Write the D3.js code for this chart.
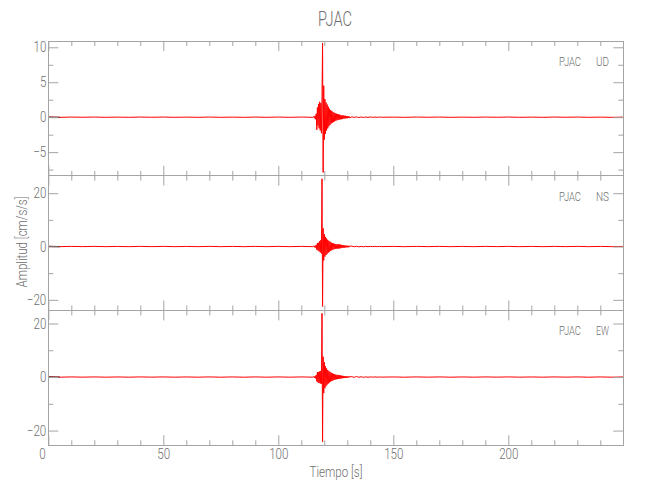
<!DOCTYPE html>
<html><head><meta charset="utf-8">
<script src="https://cdn.jsdelivr.net/npm/d3@7"></script>
<style>
body{margin:0;background:#fff}
svg{display:block}
text{font-family:Roboto,"Liberation Sans Narrow","DejaVu Sans Condensed",sans-serif;font-weight:300;fill:#707070}
</style>
</head><body><svg id="c" width="650" height="500"></svg>
<script>
// ---------- data ----------
const chartTitle = "PJAC";
const station = "PJAC";
const components = ["UD", "NS", "EW"];
const xLabel = "Tiempo  [s]";
const yLabel = "Amplitud  [cm/s/s]";
const xDomain = [0, 250];
const xTicksMajor = [0, 50, 100, 150, 200];
const xTicksMinor = [10,20,30,40,60,70,80,90,110,120,130,140,160,170,180,190,210,220,230,240];
const yDomains = [[-8.4, 10.9], [-24.0, 26.6], [-25.5, 24.9]];
const yTicksMajor = [[10, 5, 0, -5], [20, 0, -20], [20, 0, -20]];
const yTicksMinor = [[7.5, 2.5, -2.5, -7.5], [10, -10], [10, -10]];

const preTimes = [0,5,10,15,20,25,30,35,40,45,50,55,60,65,70,75,80,85,90,95,100,105,110,115];
const burstTimes = [115.5,115.75,116,116.25,116.5,116.75,117,117.25,117.5,117.75,118,118.25,118.5,118.75,
  119,119.25,119.5,119.75,120,120.25,120.5,120.75,121,121.25,121.5,121.75,122,122.25,122.5,122.75,
  123,123.25,123.5,123.75,124,124.25,124.5,124.75,125,125.25,125.5,125.75,126,126.25,126.5,126.75,
  127,127.25,127.5,127.75,128,128.25,128.5,128.75,129,129.25,129.5,129.75,130,130.25,130.5,130.75,131];
const codaTimes = [132,133,134,135,136,137,138,139,140,141,142,143,144,145];
const postTimes = [150,155,160,165,170,175,180,185,190,195,200,205,210,215,220,225,230,235,240,245,250];

// UD (cm/s/s)
const udPre = [0.01,-0.02,0.02,-0.01,0.02,-0.02,0.01,-0.02,0.02,-0.01,0.02,-0.02,0.01,-0.02,0.02,-0.02,0.01,-0.02,0.02,-0.02,0.02,-0.02,0.02,-0.02];
const udBurst = [0.1,-0.15,0.2,-0.3,0.5,-1.8,1.4,-1.2,1.9,-1.6,2.2,-1.9,2.0,-2.3,
  3.0,10.6,-7.9,4.5,-3.2,2.6,-2.4,2.1,-1.9,1.8,-1.6,1.5,-1.3,1.2,-1.1,1.0,
  -0.9,0.9,-0.8,0.75,-0.7,0.65,-0.6,0.55,-0.5,0.5,-0.45,0.45,-0.4,0.4,-0.35,0.35,
  -0.3,0.3,-0.3,0.25,-0.25,0.25,-0.2,0.2,-0.2,0.2,-0.15,0.15,-0.15,0.15,-0.12,0.12,-0.1];
const udCoda = [0.05,-0.03,0.04,-0.05,0.03,-0.04,0.02,-0.03,0.03,-0.02,0.02,-0.02,0.02,-0.01];
const udPost = [0.01,-0.02,0.02,-0.01,0.02,-0.02,0.01,-0.02,0.02,-0.01,0.02,-0.02,0.01,-0.02,0.02,-0.01,0.02,-0.02,0.01,-0.02,0.01];

// NS (cm/s/s)
const nsPre = [0.03,-0.05,0.05,-0.04,0.05,-0.05,0.04,-0.05,0.05,-0.04,0.05,-0.05,0.04,-0.05,0.05,-0.05,0.04,-0.05,0.05,-0.05,0.05,-0.05,0.05,-0.05];
const nsBurst = [0.2,-0.3,0.3,-0.4,0.6,-1.2,1.3,-1.5,1.4,-1.8,2.0,-2.2,2.4,-2.6,
  25.4,-22.5,6.8,-5.2,4.6,-3.8,3.6,-3.2,3.0,-2.7,2.5,-2.3,2.1,-1.9,1.8,-1.6,
  1.5,-1.4,1.3,-1.2,1.1,-1.0,1.0,-0.9,0.9,-0.8,0.8,-0.7,0.9,-0.8,0.8,-0.7,
  0.7,-0.6,0.6,-0.5,0.5,-0.45,0.45,-0.4,0.4,-0.35,0.35,-0.3,0.3,-0.3,0.25,-0.25,0.2];
const nsCoda = [0.12,-0.08,0.1,-0.12,0.06,-0.1,0.05,-0.07,0.06,-0.04,0.05,-0.04,0.04,-0.03];
const nsPost = [0.04,-0.05,0.05,-0.04,0.05,-0.05,0.04,-0.05,0.05,-0.04,0.05,-0.05,0.04,-0.05,0.05,-0.04,0.05,-0.05,0.04,-0.05,0.04];

// EW (cm/s/s)
const ewPre = [0.03,-0.05,0.05,-0.04,0.05,-0.05,0.04,-0.05,0.05,-0.04,0.05,-0.05,0.04,-0.05,0.05,-0.05,0.04,-0.05,0.05,-0.05,0.05,-0.05,0.05,-0.05];
const ewBurst = [0.2,-0.3,0.3,-0.5,0.8,-1.6,1.8,-2.0,1.9,-2.2,2.1,-2.4,2.3,-2.5,
  23.8,-24.2,7.6,-6.0,5.5,-4.2,4.0,-3.4,3.2,-2.8,2.6,-2.4,2.2,-2.0,1.9,-1.7,
  1.6,-1.5,1.4,-1.3,1.2,-1.1,1.0,-0.95,0.9,-0.85,0.8,-0.75,0.8,-0.7,0.7,-0.6,
  0.6,-0.55,0.5,-0.45,0.45,-0.4,0.4,-0.35,0.35,-0.3,0.3,-0.3,0.25,-0.25,0.2,-0.2,0.2];
const ewCoda = [0.12,-0.1,0.2,-0.08,0.12,-0.1,0.06,-0.08,0.06,-0.04,0.05,-0.05,0.04,-0.03];
const ewPost = [0.04,-0.05,0.05,-0.04,0.05,-0.05,0.04,-0.05,0.05,-0.04,0.05,-0.05,0.04,-0.05,0.05,-0.04,0.05,-0.05,0.04,-0.05,0.04];

const darkUntil = 5; // first seconds of each trace appear darker

// ---------- build ----------
const times = preTimes.concat(burstTimes, codaTimes, postTimes);
const seriesValues = [
  udPre.concat(udBurst, udCoda, udPost),
  nsPre.concat(nsBurst, nsCoda, nsPost),
  ewPre.concat(ewBurst, ewCoda, ewPost)
];

const svg = d3.select("#c");
const axisColor = "#a4a4a4";
const textColor = "#707070";
const fontFam = 'Roboto,"Liberation Sans Narrow","DejaVu Sans Condensed",sans-serif';
const left = 48.3, right = 623.3;
const panelTops = [41, 175.6, 310.4];
const panelH = 134.9;

const x = d3.scaleLinear().domain(xDomain).range([left, right]);

function styleAxis(g) {
  g.select(".domain").remove();
  g.selectAll(".tick line").attr("stroke", axisColor);
  g.selectAll("text").attr("fill", textColor).attr("font-size", 14.5)
    .attr("font-family", fontFam).attr("font-weight", 300)
    .attr("transform", "scale(0.8,1)");
}

components.forEach((comp, i) => {
  const top = panelTops[i];
  const bottom = top + panelH;
  const y = d3.scaleLinear().domain(yDomains[i]).range([bottom, top]);
  const g = svg.append("g");

  // trace
  const vals = seriesValues[i];
  const n = Math.min(times.length, vals.length);
  const pts = d3.range(n).map(k => ({t: times[k], v: vals[k]}));
  const line = d3.line().x(d => x(d.t)).y(d => y(d.v));
  g.append("path").datum(pts).attr("d", line)
    .attr("fill", "none").attr("stroke", "#ff0000").attr("stroke-width", 1.0);
  g.append("path").datum(pts.filter(d => d.t <= darkUntil)).attr("d", line)
    .attr("fill", "none").attr("stroke", "#6a2a2a").attr("stroke-width", 1.2);

  // frame
  g.append("rect").attr("x", left).attr("y", top).attr("width", right - left).attr("height", panelH)
    .attr("fill", "none").attr("stroke", axisColor).attr("stroke-width", 1).attr("shape-rendering", "crispEdges");

  // left axis major / minor
  g.append("g").attr("transform", `translate(${left},0)`)
    .call(d3.axisLeft(y).tickValues(yTicksMajor[i]).tickSizeInner(-10).tickSizeOuter(0).tickPadding(2.5)
      .tickFormat(d => d < 0 ? "\u2212" + Math.abs(d) : String(d)))
    .call(styleAxis);
  g.append("g").attr("transform", `translate(${left},0)`)
    .call(d3.axisLeft(y).tickValues(yTicksMinor[i]).tickSizeInner(-5).tickSizeOuter(0).tickFormat(""))
    .call(styleAxis);
  // right axis
  g.append("g").attr("transform", `translate(${right},0)`)
    .call(d3.axisRight(y).tickValues(yTicksMajor[i]).tickSizeInner(-10).tickSizeOuter(0).tickFormat(""))
    .call(styleAxis);
  g.append("g").attr("transform", `translate(${right},0)`)
    .call(d3.axisRight(y).tickValues(yTicksMinor[i]).tickSizeInner(-5).tickSizeOuter(0).tickFormat(""))
    .call(styleAxis);
  // top & bottom ticks
  g.append("g").attr("transform", `translate(0,${top})`)
    .call(d3.axisTop(x).tickValues(xTicksMajor).tickSizeInner(-10).tickSizeOuter(0).tickFormat(""))
    .call(styleAxis);
  g.append("g").attr("transform", `translate(0,${top})`)
    .call(d3.axisTop(x).tickValues(xTicksMinor).tickSizeInner(-5).tickSizeOuter(0).tickFormat(""))
    .call(styleAxis);
  const bx = g.append("g").attr("transform", `translate(0,${bottom})`)
    .call(d3.axisBottom(x).tickValues(xTicksMajor).tickSizeInner(-10).tickSizeOuter(0).tickPadding(3)
      .tickFormat(i === components.length - 1 ? d3.format("d") : ""))
    .call(styleAxis);
  bx.selectAll(".tick").filter(d => d === 0).select("text").attr("dx", -8);
  g.append("g").attr("transform", `translate(0,${bottom})`)
    .call(d3.axisBottom(x).tickValues(xTicksMinor).tickSizeInner(-5).tickSizeOuter(0).tickFormat(""))
    .call(styleAxis);

  // component label
  g.append("text").attr("x", 559).attr("y", top + 25).attr("font-size", 13)
    .attr("textLength", 22).attr("lengthAdjust", "spacingAndGlyphs").text(station);
  g.append("text").attr("x", 609).attr("y", top + 25).attr("font-size", 13)
    .attr("text-anchor", "end").attr("textLength", 13).attr("lengthAdjust", "spacingAndGlyphs").text(comp);
});

// title and axis labels
svg.append("text").attr("x", 335).attr("y", 26).attr("text-anchor", "middle")
  .attr("font-size", 21).attr("textLength", 34).attr("lengthAdjust", "spacingAndGlyphs").text(chartTitle);
svg.append("text").attr("x", 336).attr("y", 477).attr("text-anchor", "middle")
  .attr("font-size", 14).attr("textLength", 53).attr("lengthAdjust", "spacingAndGlyphs").text(xLabel);
svg.append("text").attr("transform", "translate(27,242) rotate(-90)").attr("text-anchor", "middle")
  .attr("font-size", 14).attr("textLength", 91).attr("lengthAdjust", "spacingAndGlyphs").text(yLabel);
</script>
</body></html>
